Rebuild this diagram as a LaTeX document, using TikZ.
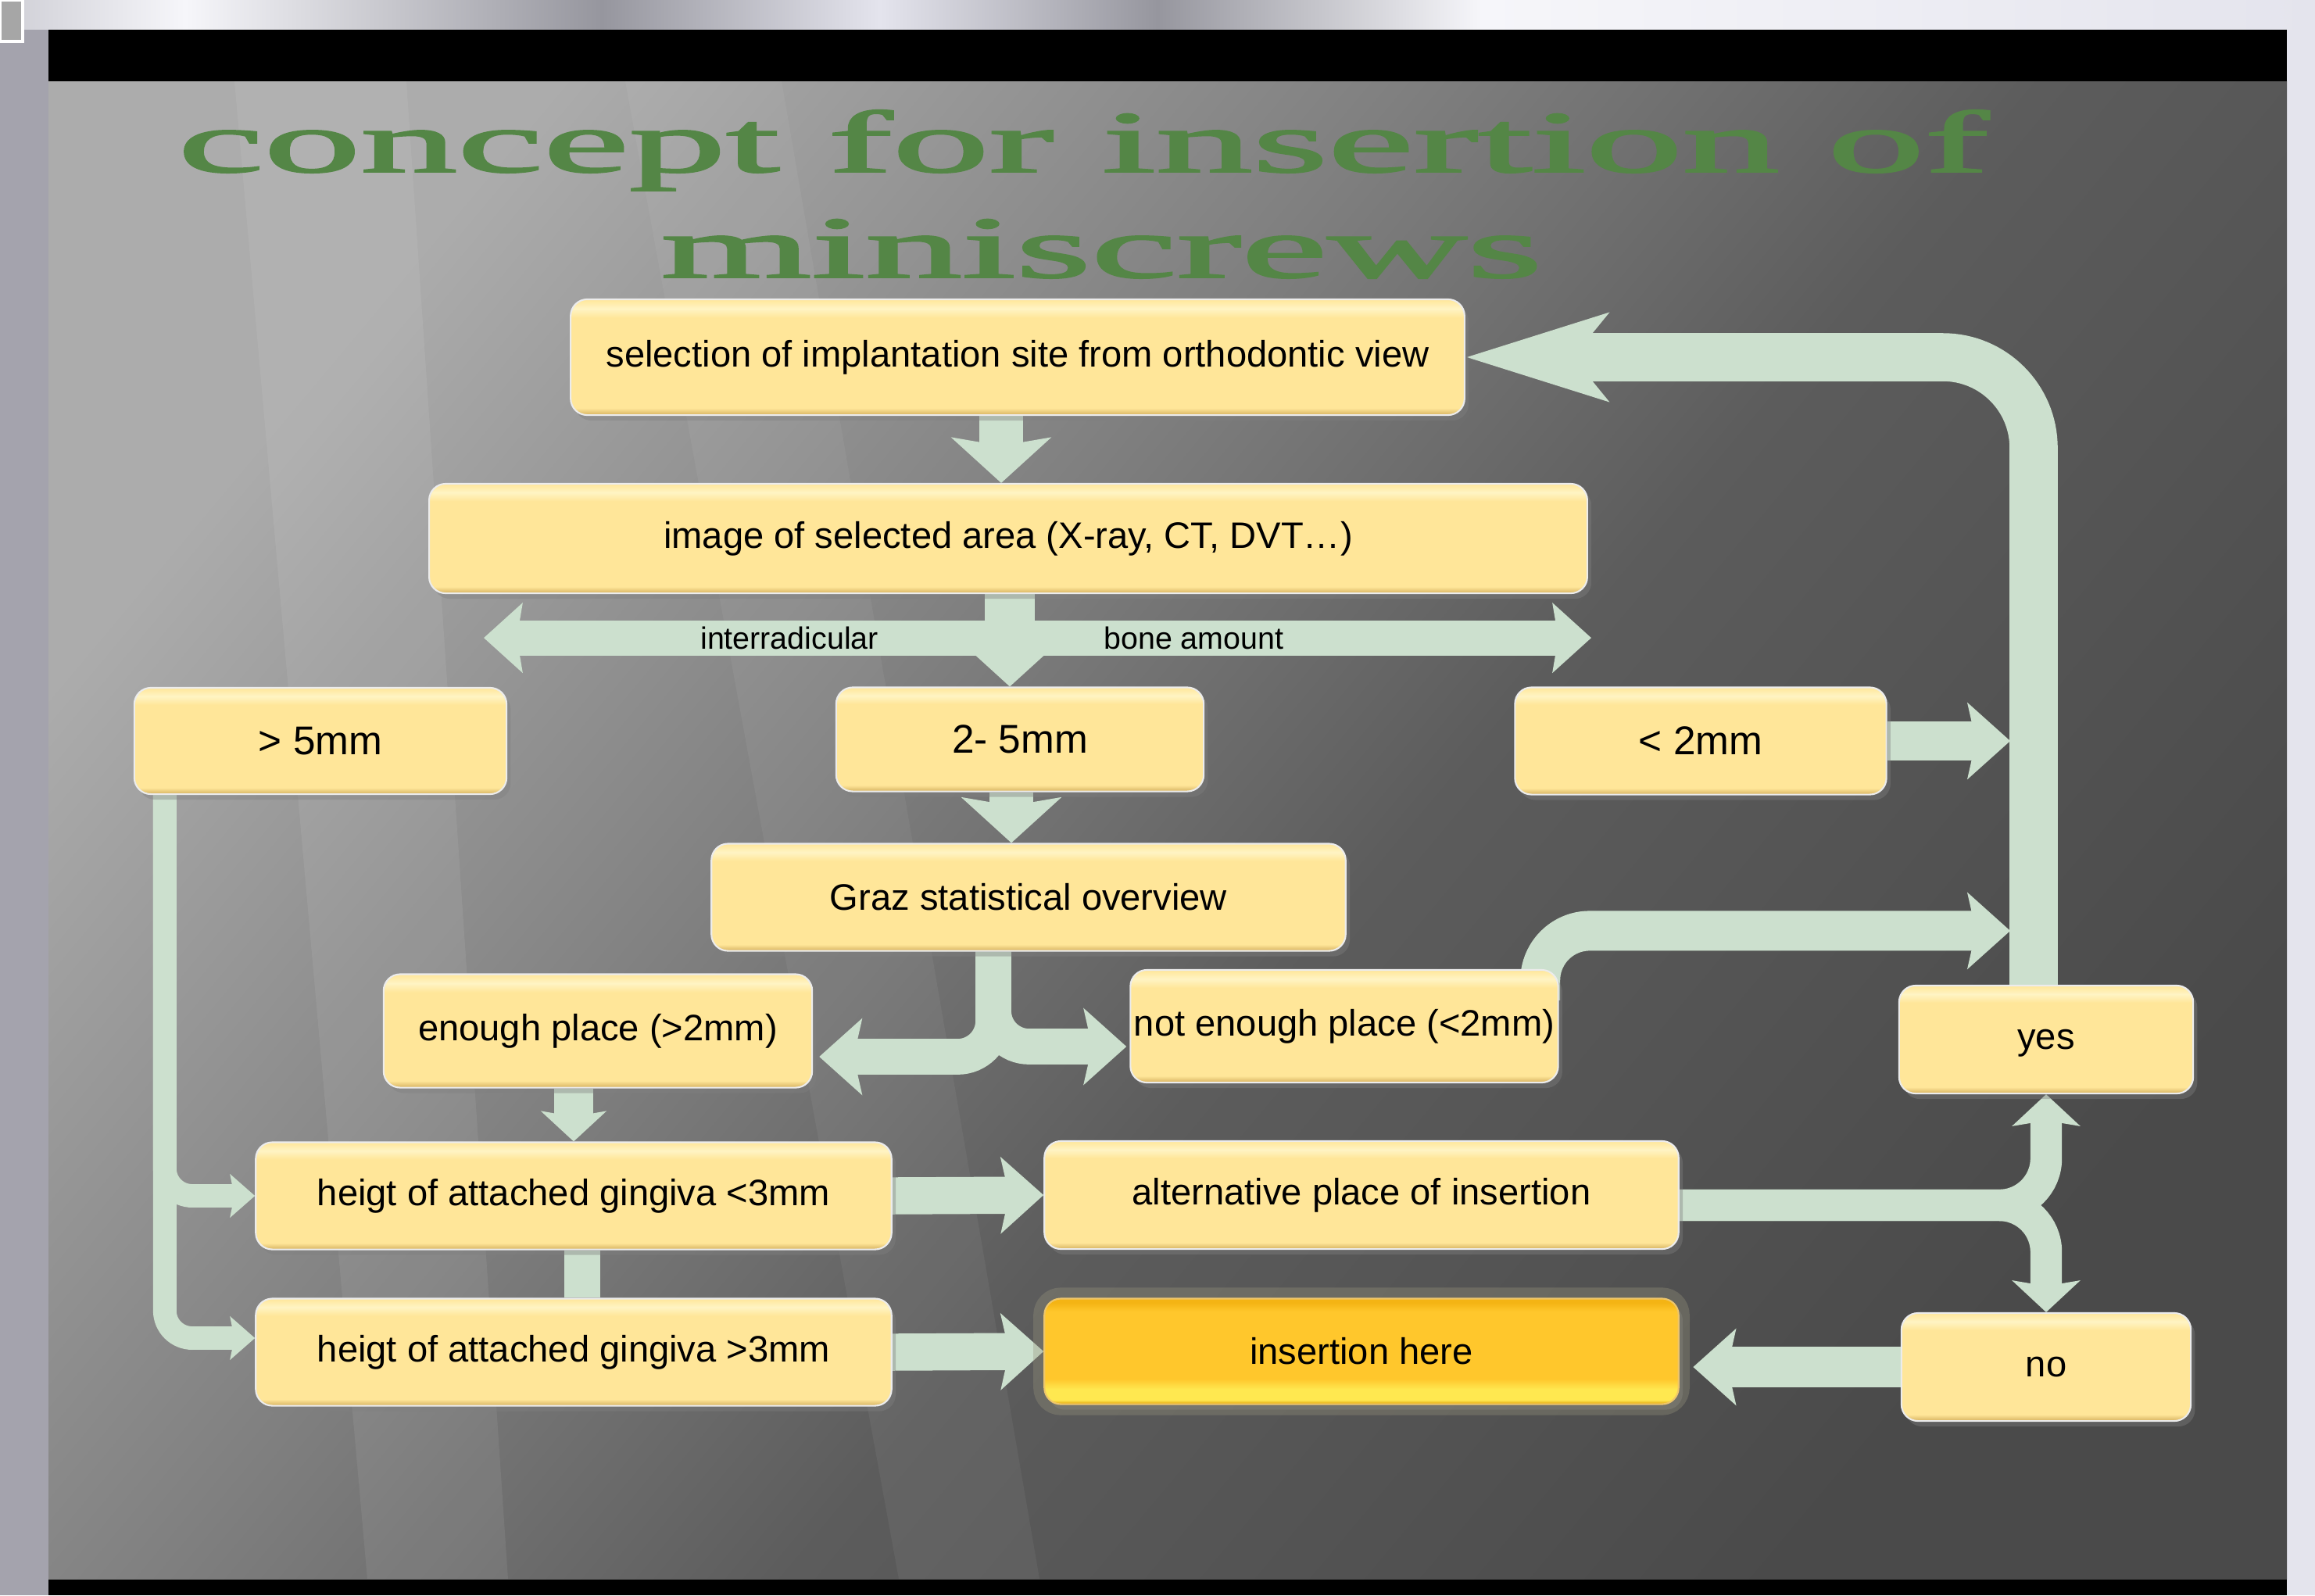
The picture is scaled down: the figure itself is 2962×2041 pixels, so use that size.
\documentclass[tikz,border=0pt]{standalone}
\usepackage{fontspec}
\setmainfont{Liberation Sans}
\newfontfamily\titlefont[FakeBold=1.6]{Liberation Serif}
\usetikzlibrary{arrows.meta,calc,shadows}

% colours of the slide
\definecolor{boxbody}{RGB}{255,230,153}
\definecolor{boxedge}{RGB}{214,178,96}
\definecolor{boxshine}{RGB}{255,244,196}
\definecolor{herebody}{RGB}{255,199,44}
\definecolor{hereedge}{RGB}{226,160,8}
\definecolor{herelow}{RGB}{255,232,80}
\definecolor{heretop}{RGB}{244,180,20}
\definecolor{hereglow}{RGB}{150,147,124}
\definecolor{mint}{RGB}{204,224,206}
\definecolor{titlegreen}{RGB}{84,134,70}
\definecolor{sl1}{RGB}{172,172,172}
\definecolor{sl2}{RGB}{128,128,128}
\definecolor{sl3}{RGB}{92,92,92}
\definecolor{sl4}{RGB}{74,74,74}
\definecolor{fr0}{RGB}{164,163,173}
\definecolor{fr1}{RGB}{206,206,213}
\definecolor{fr2}{RGB}{228,228,237}
\definecolor{fr3}{RGB}{150,150,158}
\definecolor{fr4}{RGB}{246,246,250}

\pgfdeclareverticalshading{boxfill}{100bp}{color(0bp)=(boxedge); color(25bp)=(boxedge); color(28bp)=(boxbody); color(67bp)=(boxbody); color(71bp)=(boxshine); color(75bp)=(boxbody); color(100bp)=(boxbody)}
\pgfdeclareverticalshading{herefill}{100bp}{color(0bp)=(hereedge); color(25bp)=(hereedge); color(27bp)=(herelow); color(32bp)=(herelow); color(37bp)=(herebody); color(69bp)=(herebody); color(73bp)=(heretop); color(75bp)=(heretop); color(100bp)=(heretop)}
\pgfdeclarehorizontalshading{slidefill}{100bp}{color(0bp)=(sl1); color(25bp)=(sl1); color(42bp)=(sl2); color(55bp)=(sl3); color(75bp)=(sl4); color(100bp)=(sl4)}
\pgfdeclarehorizontalshading{topfill}{100bp}{color(0bp)=(fr1); color(25bp)=(fr1); color(29bp)=(fr4); color(38bp)=(fr3); color(44bp)=(fr2); color(50bp)=(fr3); color(57bp)=(fr4); color(75bp)=(fr2); color(100bp)=(fr2)}

\pgfdeclarelayer{slide}
\pgfdeclarelayer{links}
\pgfsetlayers{slide,links,main}

\begin{document}
\begin{tikzpicture}
    [x=0.01cm,y=-0.01cm,
      box/.style={rectangle,rounded corners=6pt,shade,shading=boxfill,draw=white!85!gray,line width=0.6pt,
        drop shadow={shadow xshift=1.5pt,shadow yshift=-2pt,opacity=0.4},
        font=\fontsize{13.4pt}{16pt}\selectfont,inner sep=0pt,align=center},
      mmbox/.style={box,font=\fontsize{14.6pt}{17pt}\selectfont},
      herebox/.style={box,shading=herefill,draw=hereedge!60!white,
        preaction={draw=hereglow,opacity=0.35,line width=8pt}},
      conn/.style={draw=mint,line width=#1},
      lbl/.style={font=\fontsize{11.2pt}{13pt}\selectfont,inner sep=1pt},
      titletext/.style={anchor=base west,inner sep=0pt,text=titlegreen,font=\titlefont\fontsize{32pt}{36pt}\selectfont},
      headL/.tip={Stealth[length=51pt,width=31pt,inset=12pt]},
      headB/.tip={Stealth[length=16.5pt,width=36pt,inset=3pt]},
      headM/.tip={Stealth[length=15.5pt,width=27.5pt,inset=3pt]},
      headD/.tip={Stealth[length=14pt,width=25pt,inset=2pt]},
      headF/.tip={Stealth[length=11pt,width=23.6pt,inset=2pt]},
      headK/.tip={Stealth[length=11.5pt,width=24.5pt,inset=2pt]},
      headS/.tip={Stealth[length=9pt,width=15.6pt,inset=1.5pt]}
    ]
    \useasboundingbox (0,0) rectangle (2962,2041);

    \begin{pgfonlayer}{slide}
      % window round the slide
      \fill[fr2] (0,0) rectangle (2962,2041);
      \shade[shading=topfill] (0,0) rectangle (2962,38);
      \fill[fr0] (0,38) rectangle (62,2041);
      \fill[gray!70,draw=white,line width=1pt] (0,0) rectangle (29,53);
      % the slide
      \fill[black] (62,38) rectangle (2926,2041);
      \shade[shading=slidefill,shading angle=-40] (62,104) rectangle (2926,2020);
      \fill[white,opacity=0.07] (300,104) -- (520,104) -- (650,2020) -- (470,2020) -- cycle;
      \fill[white,opacity=0.05] (800,104) -- (1000,104) -- (1330,2020) -- (1150,2020) -- cycle;
    \end{pgfonlayer}

    % title
    \node[titletext] (titleA) at (227,220) {\scalebox{2.2}[1]{concept for insertion of}};
    \node[titletext] (titleB) at (845,355) {\scalebox{2.2}[1]{miniscrews}};

    % boxes
    \node[box,minimum width=11.43cm,minimum height=1.48cm] (sel) at (1302,457) {selection of implantation site from orthodontic view};
    \node[box,minimum width=14.81cm,minimum height=1.40cm] (img) at (1290,689) {image of selected area (X-ray, CT, DVT…)};
    \node[mmbox,minimum width=4.76cm,minimum height=1.36cm] (gt5) at (410,948) {> 5mm};
    \node[mmbox,minimum width=4.70cm,minimum height=1.33cm] (mid) at (1305,946) {2- 5mm};
    \node[mmbox,minimum width=4.75cm,minimum height=1.37cm] (lt2) at (2176,948) {< 2mm};
    \node[box,minimum width=8.11cm,minimum height=1.37cm] (graz) at (1316,1148) {Graz statistical overview};
    \node[box,minimum width=5.48cm,minimum height=1.45cm] (enough) at (765,1319) {enough place (>2mm)};
    \node[box,minimum width=5.47cm,minimum height=1.44cm] (notenough) at (1720,1313) {not enough place (<2mm)};
    \node[box,minimum width=3.76cm,minimum height=1.38cm,text depth=-3pt] (yes) at (2618,1330) {yes};
    \node[box,minimum width=8.13cm,minimum height=1.37cm] (hlt) at (734,1530) {heigt of attached gingiva <3mm};
    \node[box,minimum width=8.11cm,minimum height=1.38cm] (alt) at (1742,1529) {alternative place of insertion};
    \node[box,minimum width=8.13cm,minimum height=1.37cm] (hgt) at (734,1730) {heigt of attached gingiva >3mm};
    \node[herebox,minimum width=8.11cm,minimum height=1.35cm] (here) at (1742,1729) {insertion here};
    \node[box,minimum width=3.70cm,minimum height=1.38cm] (no) at (2618,1749) {no};

    \begin{pgfonlayer}{links}
      \draw[conn=16pt,-headB] ($(sel.south)+(-21,0)$) -- ($(img.north)+(-9,0)$);
      \coordinate (ileft) at ($(img.south west)+(71,56)$);
      \coordinate (iright) at ($(img.south east)+(4,56)$);
      \draw[conn=12.8pt,headD-headD] (ileft) -- node[lbl,pos=0.276] (inter) {interradicular}
        node[lbl,pos=0.641] (bone) {bone amount} (iright);
      \draw[conn=18pt,-headB] ($(img.south)+(2,0)$) -- ($(mid.north)+(-13,0)$);
      \draw[conn=16pt,-headB] ($(mid.south)+(-11,0)$) -- ($(graz.north)+(-22,0)$);
      % split below Graz
      \coordinate (split) at ($(graz.south)+(-45,0)$);
      \draw[conn=13pt,-headM,rounded corners=13pt] (split) |- ($(enough.east)+(8,33)$);
      \draw[conn=13pt,-headM,rounded corners=13pt] (split) |- ($(notenough.west)+(-4,26)$);
      \draw[conn=14pt,-headF] (hlt.north |- enough.south) -- (hlt.north);
      % > 5mm goes straight down
      \coordinate (drop) at ($(gt5.south west)+(40,0)$);
      \draw[conn=8.5pt,-headS,rounded corners=10pt] (drop) |- ($(hgt.west)+(0,-18)$);
      \draw[conn=8.5pt,-headS,rounded corners=10pt] (drop) |- (hlt.west);
      \draw[conn=13.5pt,-headM] (hlt.east) -- (alt.west);
      \draw[conn=13pt] ($(hlt.south)+(11,0)$) -- ($(hgt.north)+(11,0)$);
      \draw[conn=13.5pt,-headM] (hgt.east) -- (here.west);
      % yes / no
      \coordinate (fork) at ($(alt.east)+(0,13)$);
      \draw[conn=11.5pt,-headK,rounded corners=17pt] (fork) -| (yes.south);
      \draw[conn=11.5pt,-headK,rounded corners=17pt] (fork) -| (no.north);
      \draw[conn=14.8pt,-headM,shorten >=5pt] (no.west) -- (no.west -| here.east);
      % back to the start
      \coordinate (rail) at ($(yes.north)+(-16,0)$);
      \draw[conn=17.5pt,-headL,rounded corners=33pt] (rail) |- (sel.east);
      \draw[conn=14pt,-headM,shorten >=8.5pt] (lt2.east) -- (lt2.east -| rail);
      \draw[conn=14.5pt,-headM,rounded corners=18pt,shorten >=8.5pt] ($(notenough.north east)+(-24,40)$) |- ($(rail)+(0,-69)$);
    \end{pgfonlayer}
\end{tikzpicture}
\end{document}
